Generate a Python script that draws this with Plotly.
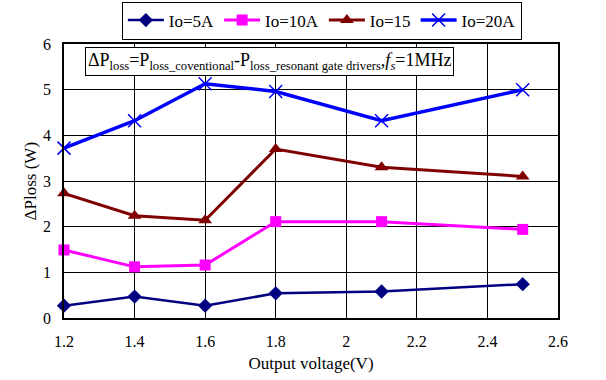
import plotly.graph_objects as go

# Output voltage (V) and loss difference (W) per load current
voltage = [1.2, 1.4, 1.6, 1.8, 2.1, 2.5]
io_5a = [0.27, 0.47, 0.27, 0.54, 0.58, 0.74]
io_10a = [1.49, 1.12, 1.16, 2.11, 2.11, 1.94]
io_15a = [2.73, 2.24, 2.14, 3.70, 3.30, 3.10]
io_20a = [3.72, 4.32, 5.13, 4.96, 4.32, 5.00]

series_names = ["Io=5A", "Io=10A", "Io=15", "Io=20A"]
x_ticks = [1.2, 1.4, 1.6, 1.8, 2.0, 2.2, 2.4, 2.6]
x_tick_text = ["1.2", "1.4", "1.6", "1.8", "2", "2.2", "2.4", "2.6"]
y_ticks = [0, 1, 2, 3, 4, 5, 6]

FONT = "'Liberation Serif', 'DejaVu Serif', serif"

styles = [
    dict(color="#000080", symbol="diamond", size=11, lw=2.5, mline=0),
    dict(color="#FF00FF", symbol="square", size=11, lw=3, mline=0),
    dict(color="#800000", symbol="triangle-up", size=12, lw=3, mline=0),
    dict(color="#0000FF", symbol="x-thin", size=13, lw=3.5, mline=1.5),
]

fig = go.Figure()
for name, ys, st in zip(series_names, [io_5a, io_10a, io_15a, io_20a], styles):
    marker = dict(symbol=st["symbol"], size=st["size"], color=st["color"])
    if st["mline"]:
        marker["line"] = dict(color=st["color"], width=st["mline"])
    fig.add_trace(go.Scatter(
        x=voltage, y=ys, name=name, mode="lines+markers",
        line=dict(color=st["color"], width=st["lw"]),
        marker=marker, cliponaxis=False,
    ))

# Formula box inside the plot area
fig.add_annotation(
    xref="paper", yref="paper", x=0.043, y=0.99, xanchor="left", yanchor="top",
    text="ΔP<sub>loss</sub>=P<sub>loss_coventional</sub>-P<sub>loss_resonant gate drivers</sub>,"
         "<i>f<sub>s</sub></i>=1MHz",
    showarrow=False, font=dict(family=FONT, size=18, color="black"),
    bgcolor="white", bordercolor="black", borderwidth=1, borderpad=2,
)

# Y-axis title placed as a rotated label left of the tick labels
fig.add_annotation(
    xref="paper", yref="paper", x=-0.068, y=0.5, xanchor="center", yanchor="middle",
    text="ΔPloss (W)", textangle=-90, showarrow=False,
    font=dict(family=FONT, size=17, color="black"),
)

fig.update_layout(
    width=606, height=380,
    margin=dict(l=64, r=48, t=44, b=62, autoexpand=False),
    paper_bgcolor="white", plot_bgcolor="white",
    font=dict(family=FONT, size=16, color="black"),
    showlegend=True,
    legend=dict(
        orientation="h", x=0.522, xanchor="center", y=1.155, yanchor="top",
        bordercolor="black", borderwidth=1, bgcolor="white",
        font=dict(family=FONT, size=17), itemwidth=36,
        tracegroupgap=0,
    ),
    xaxis=dict(
        range=[1.2, 2.6], tickvals=x_ticks, ticktext=x_tick_text,
        showgrid=True, gridcolor="black", gridwidth=1,
        showline=True, linecolor="black", linewidth=1.5, mirror=True,
        zeroline=False, ticks="", ticklabelstandoff=8,
        title=dict(text="Output voltage(V)", font=dict(family=FONT, size=17), standoff=8),
    ),
    yaxis=dict(
        range=[0, 6], tickvals=y_ticks,
        showgrid=True, gridcolor="black", gridwidth=1,
        showline=True, linecolor="black", linewidth=1.5, mirror=True,
        zeroline=False, ticks="", ticklabelstandoff=8,
    ),
)

fig.write_html("out.html")
